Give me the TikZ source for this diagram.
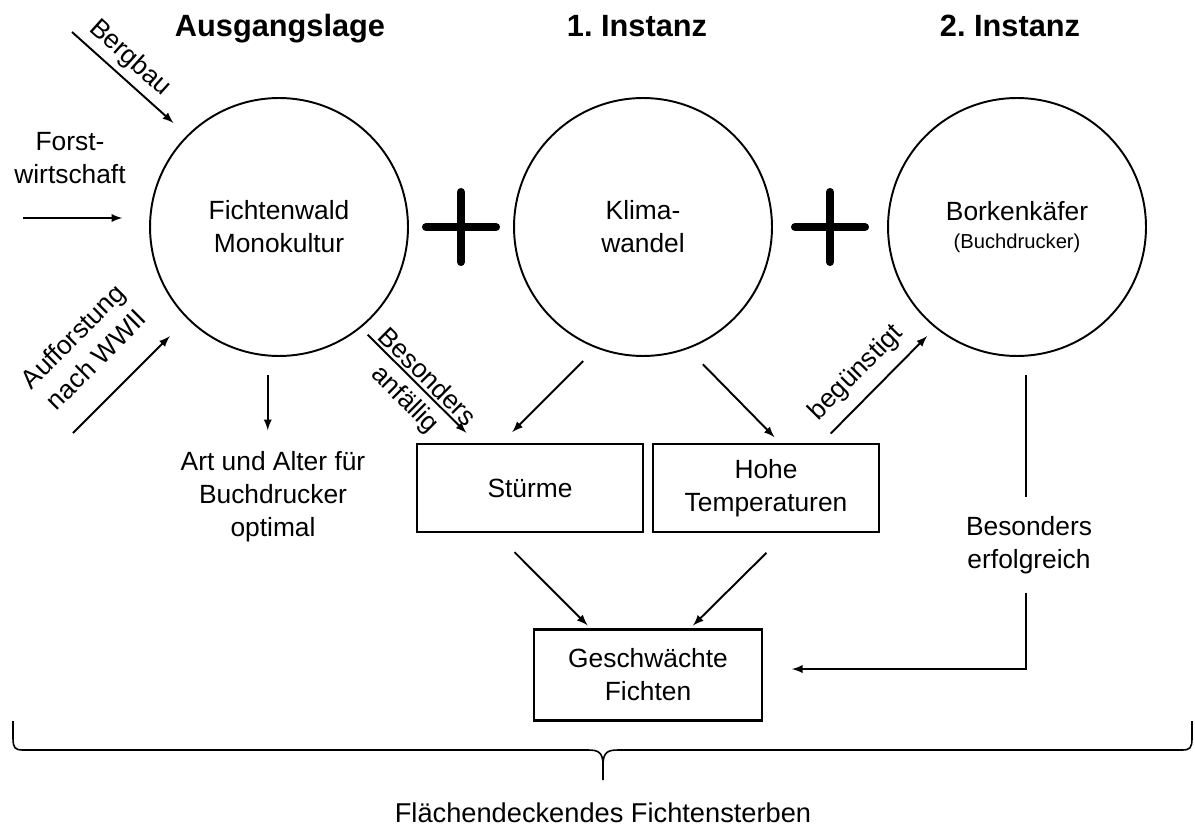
\documentclass[tikz,border=0pt]{standalone}
\usepackage{fontspec}
\setmainfont{Liberation Sans}
\usetikzlibrary{calc}
\tikzset{>=latex}
\tikzset{
  bubble/.style={draw,circle,line width=1.1pt,minimum size=5.16cm,outer sep=0pt,align=center},
  box/.style={draw,rectangle,line width=1.4pt,minimum width=4.52cm,minimum height=1.76cm,outer sep=0pt,align=center},
  heading/.style={font=\fontsize{17.5}{21}\selectfont\bfseries,anchor=base},
  arr/.style={->,line width=1.1pt},
  plussign/.style={line width=4.6pt,line cap=round}
}
\frenchspacing

\begin{document}
\begin{tikzpicture}[x=0.02cm,y=-0.02cm,font=\fontsize{15}{18.8}\selectfont]
  \useasboundingbox (0,0) rectangle (1195,827);
  % headings
  \node[heading] (ausgang) at (280,37) {Ausgangslage};
  \node[heading] (inst1) at (637,37) {1. Instanz};
  \node[heading] (inst2) at (1010,37) {2. Instanz};
  % circles
  \node[bubble] (wald) at (279,227) {Fichtenwald\\Monokultur};
  \node[bubble] (klima) at (643,227) {Klima-\\wandel};
  \node[bubble] (borken) at (1017,227) {Borkenkäfer\\[-3pt]{\fontsize{11.5}{14}\selectfont (Buchdrucker)}};
  % plus signs
  \foreach \a/\b in {wald/klima,klima/borken}
    \draw[plussign] ($(\a)!0.5!(\b)+(-35,0)$) -- +(70,0) ($(\a)!0.5!(\b)+(0,-35)$) -- +(0,70);
  % boxes and texts
  \node[box] (stuerme) at (530,488) {Stürme};
  \node[box] (hohe) at (766,488) {Hohe\\Temperaturen};
  \node[box,minimum width=4.56cm,minimum height=1.82cm] (gesch) at (648,675) {Geschwächte\\Fichten};
  \node[inner sep=0pt,align=center] (art) at (273,497) {Art und Alter für\\Buchdrucker\\optimal};
  \node[align=center] (forst) at (70,158) {Forst-\\wirtschaft};
  \node[align=center,inner xsep=0pt,inner ysep=10.5pt] (erfolg) at (1029,545) {Besonders\\erfolgreich};
  \node[anchor=base,inner sep=0pt,font=\fontsize{15.5}{18}\selectfont] (flaeche) at (603,822) {Flächendeckendes Fichtensterben};
  % causes
  \coordinate (bergbau-start) at (72,32);
  \coordinate (forst-start) at (23,218);
  \coordinate (auff-start) at (73,433);
  \draw[arr,shorten >=11pt] (bergbau-start) -- node[sloped,above,pos=0.39] {Bergbau} (wald.135);
  \draw[arr,shorten >=16pt] (forst-start) -- (wald.176);
  \draw[arr,shorten >=14.5pt] (auff-start) -- node[sloped,above=11pt,pos=0.42,align=center] {Aufforstung\\nach WWII} (wald.225);
  % effects
  \draw[arr,shorten <=11pt,shorten >=12pt] (wald.265) -- (wald.265 |- art.north);
  \draw[arr,shorten <=6pt,shorten >=9pt] (wald.309) -- node[sloped,above,inner sep=1.5pt] {Besonders} node[sloped,below,inner sep=4pt] {anfällig} (stuerme.140);
  \draw[arr,shorten <=11pt,shorten >=9.6pt] (klima.249) -- (stuerme.124);
  \draw[arr,shorten <=12.8pt,shorten >=5.4pt] (klima.290) -- (hohe.71);
  \draw[arr,shorten <=8.4pt,shorten >=7.1pt] (hohe.39) -- node[sloped,above=3pt,pos=0.46] {begünstigt} (borken.231);
  \draw[arr,shorten <=16.2pt,shorten >=3.4pt] (stuerme.231) -- (gesch.141);
  \draw[arr,shorten <=16.8pt,shorten >=3.2pt] (hohe.296) -- (gesch.48);
  \draw[line width=1.1pt,shorten <=11pt] (borken.274) -- (borken.274 |- erfolg.north);
  \draw[arr,shorten >=17pt] (borken.274 |- erfolg.south) |- (gesch.3);
  % brace
  \draw[line width=0.9pt] (13,721) -- (13,738) .. controls (13,748) and (15,750) .. (23,750) -- (588,750)
    .. controls (598,750) and (603,752) .. (603,765) -- (603,780)
    (603,780) -- (603,765) .. controls (603,752) and (608,750) .. (618,750) -- (1182,750)
    .. controls (1190,750) and (1192,748) .. (1192,738) -- (1192,721);
\end{tikzpicture}
\end{document}
